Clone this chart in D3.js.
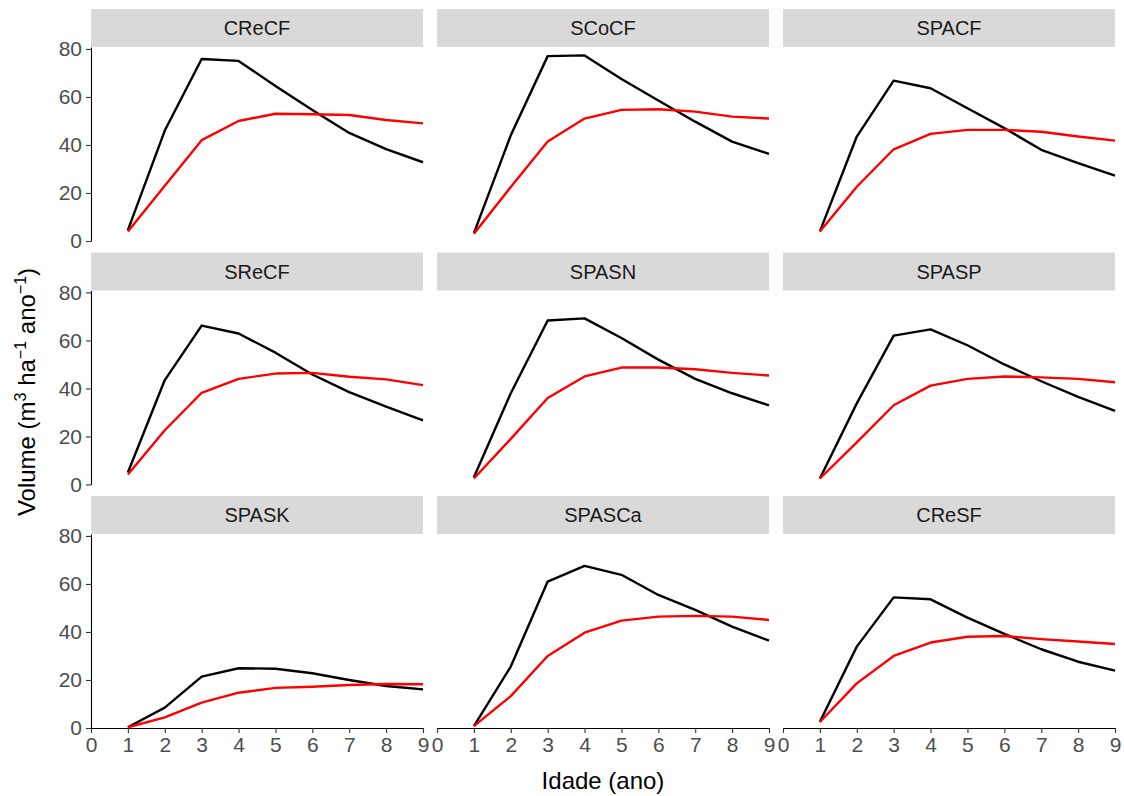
<!DOCTYPE html>
<html lang="pt">
<head>
<meta charset="UTF-8">
<title>Incremento em volume por tratamento</title>
<script src="https://d3js.org/d3.v7.min.js"></script>
<style>
    body { margin: 0; background: #fff; }
    svg { font-family: "Liberation Sans", Arial, sans-serif; }
    .strip rect { fill: #d9d9d9; }
    .strip text { fill: #1a1a1a; font-size: 20px; }
    .axis text { fill: #4d4d4d; font-size: 21px; font-family: "Liberation Sans", Arial, sans-serif; }
    .axis line { stroke: #333; stroke-width: 1.1; }
    .axis path { stroke: #000; stroke-width: 1.1; }
    .serie { fill: none; stroke-width: 2.4; stroke-linejoin: round; }
</style>
</head>
<body>
<svg></svg>
<script>
// idades (anos) e tratamentos
const idade = [1, 2, 3, 4, 5, 6, 7, 8, 9];
const tratamentos = ["CReCF", "SCoCF", "SPACF", "SReCF", "SPASN", "SPASP", "SPASK", "SPASCa", "CReSF"];

// incremento corrente anual (linha preta)
const ica = [
    [4.5, 46, 75.8, 75, 64.6, 54.6, 45, 38.3, 32.8],
    [3.3, 44, 77, 77.3, 67.5, 58.5, 49.7, 41.4, 36.3],
    [4, 43.5, 66.8, 63.6, 55.3, 47, 38, 32.4, 27.2],
    [5, 43.5, 66.2, 62.9, 54.9, 45.8, 38.5, 32.4, 26.7],
    [3, 38, 68.3, 69.2, 61, 52, 44, 38, 33],
    [2.5, 33.8, 62, 64.6, 58, 50, 43, 36.5, 30.7],
    [0.3, 8.5, 21.4, 24.9, 24.7, 22.8, 20, 17.5, 16.1],
    [0.8, 25.6, 61, 67.5, 63.8, 55.4, 49.2, 42.2, 36.4],
    [2.6, 33.9, 54.4, 53.6, 46, 39.2, 32.8, 27.6, 23.9]
];

// incremento medio anual (linha vermelha)
const ima = [
    [4, 23, 42, 50, 53, 52.8, 52.5, 50.4, 49],
    [3, 22.5, 41.4, 51, 54.6, 54.9, 53.9, 51.8, 51],
    [4, 22.6, 38.2, 44.6, 46.3, 46.3, 45.5, 43.5, 41.8],
    [4.2, 22.6, 38.2, 44, 46.2, 46.5, 44.9, 43.8, 41.4],
    [2.5, 19, 36, 45, 48.7, 48.7, 48, 46.5, 45.4],
    [2.5, 17.5, 33, 41.2, 44, 45, 44.6, 44, 42.6],
    [0.3, 4.4, 10.6, 14.7, 16.7, 17.2, 17.9, 18.3, 18.2],
    [0.8, 13.3, 30, 39.7, 44.7, 46.4, 46.7, 46.4, 45],
    [2.5, 18.6, 30, 35.6, 38, 38.3, 37, 36, 35]
];

const xTicks = [0, 1, 2, 3, 4, 5, 6, 7, 8, 9];
const yTicks = [0, 20, 40, 60, 80];

const width = 1124, height = 796;
const svg = d3.select("svg").attr("width", width).attr("height", height);

// grade de paineis
const left = 91, panelW = 332, gapX = 14;
const top0 = 9, stripH = 38, panelH = 194, rowStep = 243.5;

const x = d3.scaleLinear().domain([0, 9]).range([0, panelW]);
const y = d3.scaleLinear().domain([0, 80.8]).range([panelH, 0]);

const line = d3.line()
    .x((d, i) => x(idade[i]))
    .y(d => y(d));

tratamentos.forEach((nome, k) => {
    const col = k % 3, row = Math.floor(k / 3);
    const px = left + col * (panelW + gapX);
    const sy = top0 + row * rowStep;
    const py = sy + stripH;

    // faixa com o nome
    const strip = svg.append("g").attr("class", "strip")
        .attr("transform", `translate(${px},${sy})`);
    strip.append("rect").attr("width", panelW).attr("height", stripH);
    strip.append("text")
        .attr("x", panelW / 2).attr("y", stripH / 2)
        .attr("dy", "0.36em")
        .attr("text-anchor", "middle")
        .text(nome);

    const g = svg.append("g").attr("transform", `translate(${px},${py})`);

    if (col === 0) {
        g.append("g").attr("class", "axis")
            .call(d3.axisLeft(y).tickValues(yTicks).tickSize(5).tickSizeOuter(0).tickPadding(4));
    }
    if (row === 2) {
        g.append("g").attr("class", "axis")
            .attr("transform", `translate(0,${panelH})`)
            .call(d3.axisBottom(x).tickValues(xTicks).tickSize(5).tickSizeOuter(0).tickPadding(4));
    }

    g.append("path").attr("class", "serie")
        .attr("stroke", "#000")
        .attr("d", line(ica[k]));
    g.append("path").attr("class", "serie")
        .attr("stroke", "#ff0000")
        .attr("d", line(ima[k]));
});

// titulos dos eixos
svg.append("text")
    .attr("x", left + (3 * panelW + 2 * gapX) / 2)
    .attr("y", 789)
    .attr("text-anchor", "middle")
    .style("font-size", "24px")
    .text("Idade (ano)");

const yt = svg.append("text")
    .attr("transform", "translate(35,392) rotate(-90)")
    .attr("text-anchor", "middle")
    .style("font-size", "24px");
yt.append("tspan").text("Volume (m");
yt.append("tspan").attr("dy", -9).style("font-size", "16px").text("3");
yt.append("tspan").attr("dy", 9).text(" ha");
yt.append("tspan").attr("dy", -9).style("font-size", "16px").text("\u22121");
yt.append("tspan").attr("dy", 9).text(" ano");
yt.append("tspan").attr("dy", -9).style("font-size", "16px").text("\u22121");
yt.append("tspan").attr("dy", 9).text(")");
</script>
</body>
</html>
